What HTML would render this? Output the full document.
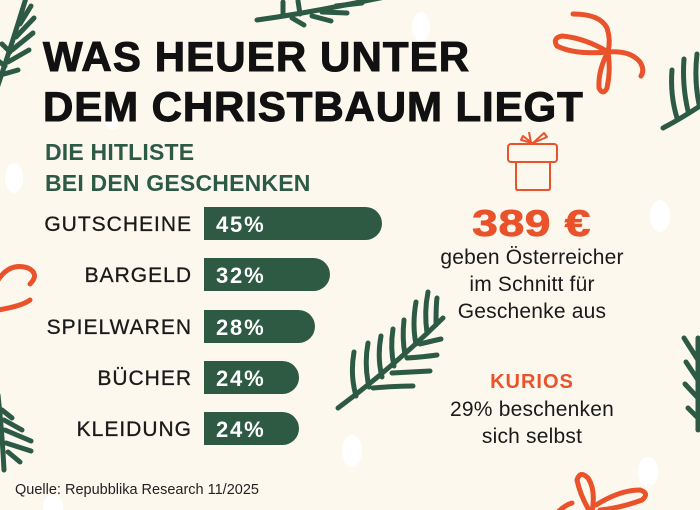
<!DOCTYPE html>
<html><head><meta charset="utf-8">
<style>
html,body{margin:0;padding:0;}
body{width:700px;height:510px;overflow:hidden;background:#fcf8ee;position:relative;font-family:"Liberation Sans",sans-serif;}
svg.bg{position:absolute;left:0;top:0;}
.t{position:absolute;white-space:nowrap;line-height:1;}
.title{left:43px;font-size:42px;font-weight:bold;color:#111;letter-spacing:1.1px;-webkit-text-stroke:1px #111;}
.sub{left:45px;font-size:23px;font-weight:bold;color:#2d5a44;letter-spacing:0.2px;}
.lab{right:508px;font-size:21px;color:#1a1a1a;letter-spacing:1px;text-align:right;-webkit-text-stroke:0.3px #1a1a1a;}
.bar{position:absolute;left:204px;height:33px;background:#2e5a44;border-radius:0 17px 17px 0;}
.pct{position:absolute;left:216px;font-size:22px;font-weight:bold;color:#fff;letter-spacing:1.8px;line-height:1;}
.c{position:absolute;left:432px;width:200px;text-align:center;line-height:1;white-space:nowrap;}
.rt{font-size:21px;color:#1a1a1a;letter-spacing:0.2px;}
</style></head><body>
<svg class="bg" width="700" height="510" viewBox="0 0 700 510">
<g fill="#ffffff">
<ellipse cx="112" cy="120" rx="7" ry="10"/>
<ellipse cx="14" cy="178" rx="9" ry="15"/>
<ellipse cx="421" cy="27" rx="9" ry="15"/>
<ellipse cx="660" cy="216" rx="10" ry="16"/>
<ellipse cx="352" cy="451" rx="10" ry="16"/>
<ellipse cx="648" cy="472" rx="10" ry="15"/>
<ellipse cx="53" cy="508" rx="10" ry="14"/>
</g>
<g stroke="#2d5a44" stroke-width="5" stroke-linecap="round" fill="none">
<path d="M-3 88 Q10 50 26 -2"/>
<path d="M4 74 L18 70"/><path d="M8 62 L29 50"/><path d="M12 50 L33 33"/><path d="M16 37 L34 18"/><path d="M20 24 L31 6"/>
<path d="M5 66 L-3 60"/><path d="M10 52 L2 44"/>
<path d="M257 20 Q300 14 345 5 T385 -3"/>
<path d="M292 18 L304 25"/><path d="M312 16 L331 21"/><path d="M322 12 L347 13"/><path d="M336 6 L362 3"/>
<path d="M283 16 L283 2"/><path d="M300 14 L298 1"/>
<path d="M663 128 Q682 118 703 104"/>
<path d="M677 118 Q670 95 672 70"/><path d="M688 111 Q682 85 684 59"/><path d="M699 104 Q694 80 697 54"/>
<path d="M338 408 Q392 368 443 318"/>
<path d="M356 396 Q350 375 354 352"/>
<path d="M369 387 Q364 365 368 343"/>
<path d="M382 377 Q377 357 381 336"/>
<path d="M394 366 Q390 348 393 329"/>
<path d="M405 355 Q402 338 404 320"/>
<path d="M416 344 Q412 325 416 302"/>
<path d="M427 333 Q424 312 428 292"/>
<path d="M436 325 Q436 305 437 298"/>
<path d="M373 388 Q395 386 413 386"/>
<path d="M392 373 Q412 372 430 371"/>
<path d="M407 358 Q423 357 437 355"/>
<path d="M420 344 Q432 341 441 339"/>
<path d="M698 338 L698 430"/>
<path d="M698 360 L684 338"/><path d="M698 380 L686 362"/><path d="M698 398 L685 384"/><path d="M698 418 L688 408"/>
<path d="M-2 395 Q2 430 4 470"/>
<path d="M2 410 L12 418"/><path d="M4 420 L22 430"/><path d="M5 430 L31 441"/><path d="M6 443 L31 451"/><path d="M8 452 L20 462"/>
</g>
<g stroke="#e9522a" stroke-width="5" stroke-linecap="round" fill="none">
<path d="M573 14 Q600 14 607 28 Q611 40 608 52"/>
<path d="M608 52 Q585 38 562 36 Q552 38 557 46 Q575 55 608 52"/>
<path d="M608 52 Q598 70 599 88 Q603 96 607 88 Q611 70 608 52"/>
<path d="M608 52 Q630 50 640 62 Q645 70 641 76"/>
<path d="M-2 280 Q10 262 28 268 Q40 274 30 284"/>
<path d="M30 300 Q22 306 -2 310"/>
<path d="M590 512 Q580 495 577 480 Q580 470 588 478 Q596 490 592 512"/>
<path d="M596 505 Q620 490 640 490 Q650 493 642 500 Q620 508 600 510"/>
<path d="M572 503 Q565 505 558 512"/>
</g>
<g stroke="#e9522a" stroke-width="2" fill="none" stroke-linejoin="round">
<rect x="508" y="144" width="49" height="18" rx="3"/>
<path d="M516 162 V188 Q516 190 518 190 H548 Q550 190 550 188 V162"/>
<path d="M532 143 L523 136 L521 140 Z"/>
<path d="M533 143 L544 133 L547 137 Z"/>
<path d="M531 143 L529 132"/>
</g>
</svg>

<div class="t title" style="top:36px;">WAS HEUER UNTER</div>
<div class="t title" style="top:86px;letter-spacing:0.9px;">DEM CHRISTBAUM LIEGT</div>
<div class="t sub" style="top:140.5px;">DIE HITLISTE</div>
<div class="t sub" style="top:171.5px;">BEI DEN GESCHENKEN</div>

<div class="bar" style="top:207px;width:178px;"></div>
<div class="bar" style="top:258px;width:126px;"></div>
<div class="bar" style="top:310px;width:111px;"></div>
<div class="bar" style="top:361px;width:95px;"></div>
<div class="bar" style="top:412px;width:95px;"></div>

<div class="t lab" style="top:214px;">GUTSCHEINE</div>
<div class="t lab" style="top:265px;">BARGELD</div>
<div class="t lab" style="top:317px;">SPIELWAREN</div>
<div class="t lab" style="top:368px;">BÜCHER</div>
<div class="t lab" style="top:419px;">KLEIDUNG</div>

<div class="pct" style="top:213.5px;">45%</div>
<div class="pct" style="top:264.5px;">32%</div>
<div class="pct" style="top:316.5px;">28%</div>
<div class="pct" style="top:367.5px;">24%</div>
<div class="pct" style="top:418.5px;">24%</div>

<div class="c" style="top:205px;"><span style="display:inline-block;font-size:37px;font-weight:bold;color:#e9522a;transform:scaleX(1.25);letter-spacing:0.5px;-webkit-text-stroke:0.8px #e9522a;">389 €</span></div>
<div class="c rt" style="top:247px;">geben Österreicher</div>
<div class="c rt" style="top:274px;">im Schnitt für</div>
<div class="c rt" style="top:301px;">Geschenke aus</div>
<div class="c" style="top:372px;font-size:20px;font-weight:bold;color:#e9522a;letter-spacing:1px;">KURIOS</div>
<div class="c rt" style="top:399px;">29% beschenken</div>
<div class="c rt" style="top:426px;">sich selbst</div>

<div class="t" style="left:15px;top:482.5px;font-size:14.5px;color:#222;">Quelle: Repubblika Research 11/2025</div>
</body></html>
